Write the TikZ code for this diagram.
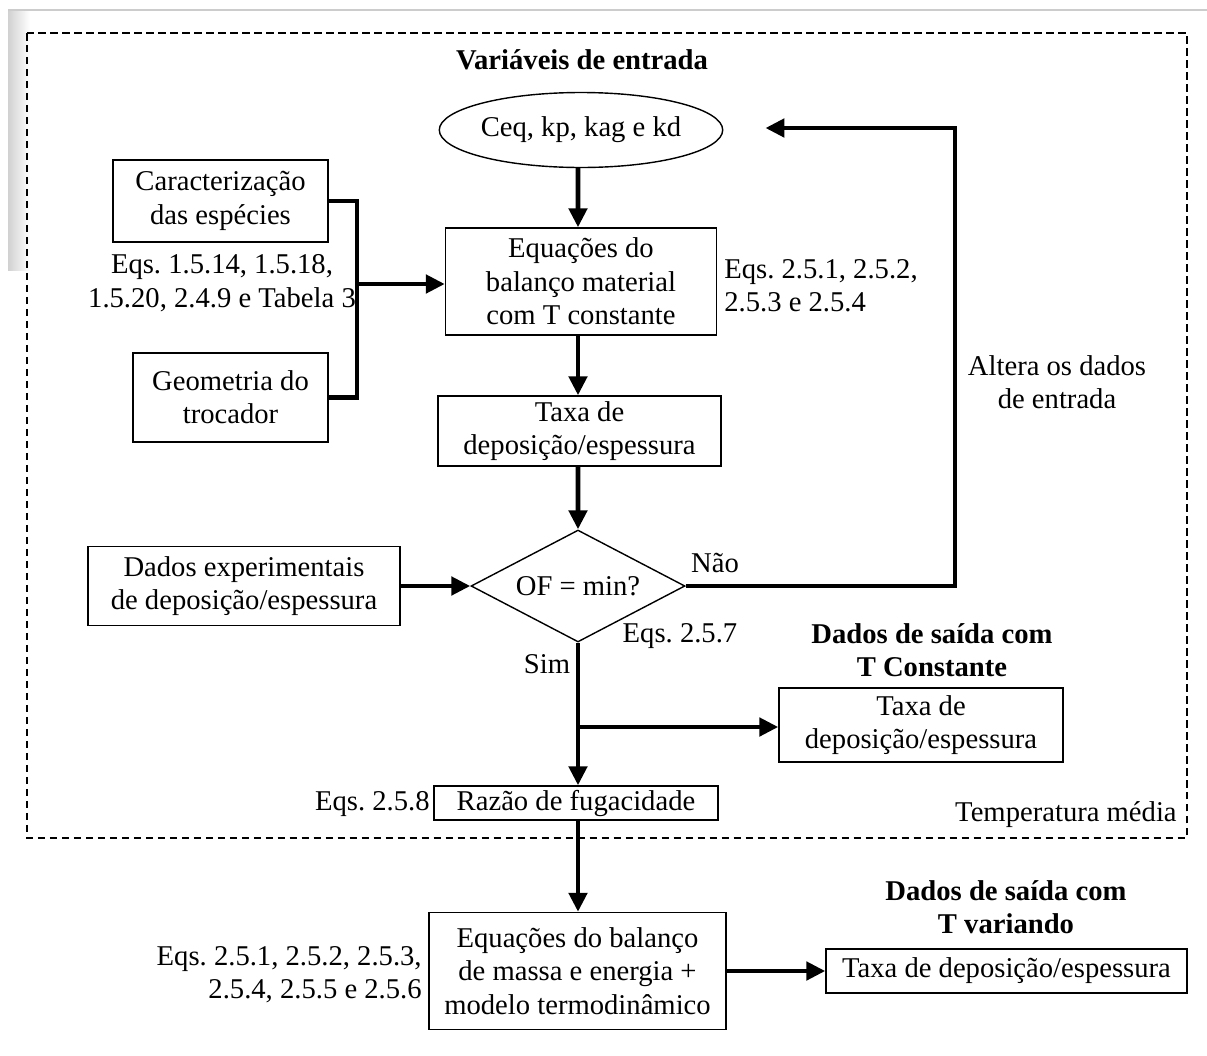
\documentclass[tikz,border=0pt]{standalone}
\usepackage{fontspec}
\setmainfont{Liberation Serif}
\frenchspacing
\usetikzlibrary{shapes.geometric,arrows.meta}
\begin{document}
\begin{tikzpicture}[x=0.02cm,y=-0.02cm,
    every node/.style={font=\fontsize{16.3}{19}\selectfont},
    box/.style={draw,line width=0.8pt,align=center,inner sep=0pt},
    lbl/.style={inner sep=0pt},
    ttl/.style={inner sep=0pt,align=center,font=\fontsize{16.3}{19}\selectfont\bfseries},
    arr/.style={line width=2.8pt,-{Triangle[length=0.38cm,width=0.36cm]}},
    thk/.style={line width=2.8pt}]
    \useasboundingbox (0,0) rectangle (1207,1055);

    % page edge
    \shade[left color=black!18,right color=white] (8,10) rectangle (30,270);
    \draw[black!20,line width=1pt] (8,10) -- (1207,10);

    % frame for the mean temperature part
    \draw[line width=1pt,dash pattern=on 0.15cm off 0.09cm] (27,33) rectangle (1187,838);
    \node[ttl] (tin) at (582,60) {Variáveis de entrada};
    \node[lbl,anchor=east] (tmed) at (1177,815) {Temperatura média};

    % main column
    \node[draw,ellipse,line width=0.8pt,minimum width=5.54cm,minimum height=1.5cm,inner sep=0pt] (ell) at (581,130) {Ceq, kp, kag e kd};
    \node[box,minimum width=5.42cm,minimum height=2.14cm] (eqmat) at (581,281.5) {Equações do\\balanço material\\com T constante};
    \node[box,minimum width=5.66cm,minimum height=1.4cm] (taxa) at (579.5,431) {Taxa de\\deposição/espessura};
    \node[draw,diamond,line width=0.8pt,aspect=1.9,minimum width=4.28cm,minimum height=2.24cm,inner sep=0pt] (dec) at (578,586) {OF = min?};
    \node[box,minimum width=5.68cm,minimum height=0.68cm] (raz) at (576,803) {Razão de fugacidade};
    \node[box,minimum width=5.94cm,minimum height=2.34cm] (eqme) at (577.5,971) {Equações do balanço\\de massa e energia +\\modelo termodinâmico};

    % inputs on the left
    \node[box,minimum width=4.3cm,minimum height=1.64cm] (carac) at (220.5,201) {Caracterização\\das espécies};
    \node[box,minimum width=3.9cm,minimum height=1.78cm] (geom) at (230.5,397.5) {Geometria do\\trocador};
    \node[box,minimum width=6.24cm,minimum height=1.58cm] (dados) at (244,586) {Dados experimentais\\de deposição/espessura};

    % outputs
    \node[ttl] (tcons) at (932,650) {Dados de saída com\\T Constante};
    \node[box,minimum width=5.68cm,minimum height=1.48cm] (taxa2) at (921,725) {Taxa de\\deposição/espessura};
    \node[ttl] (tvar) at (1006,907) {Dados de saída com\\T variando};
    \node[box,minimum width=7.22cm,minimum height=0.88cm] (final) at (1006.5,971) {Taxa de deposição/espessura};

    % equation labels
    \node[lbl,align=center] (eqcar) at (222,283) {Eqs. 1.5.14, 1.5.18,\\1.5.20, 2.4.9 e Tabela 3};
    \node[lbl,align=left,anchor=west] (eqbal) at (724,285.5) {Eqs. 2.5.1, 2.5.2,\\2.5.3 e 2.5.4};
    \node[lbl] (eqof) at (680,636) {Eqs. 2.5.7};
    \node[lbl,anchor=east] (eqraz) at (430,804) {Eqs. 2.5.8};
    \node[lbl,align=right,anchor=east] (eqme2) at (422,975) {Eqs. 2.5.1, 2.5.2, 2.5.3,\\2.5.4, 2.5.5 e 2.5.6};
    \node[lbl,align=center] (alt) at (1057,382) {Altera os dados\\de entrada};
    \node[lbl] (nao) at (715,563) {Não};
    \node[lbl] (sim) at (547,664) {Sim};

    % connectors
    \coordinate (jn) at (357,284);
    \coordinate (loop) at (955,128);
    \coordinate (br) at (578,727);
    \draw[thk] (carac.east) -| (jn);
    \draw[thk] (geom.east) -| (jn);
    \draw[arr] (jn) -- (jn -| eqmat.west);
    \draw[arr] (ell.south -| eqmat.north) ++(-3,0) -- ([xshift=-0.06cm]eqmat.north);
    \draw[arr] ([xshift=-0.06cm]eqmat.south) -- ([xshift=-0.06cm]eqmat.south |- taxa.north);
    \draw[arr] ([xshift=-0.06cm]eqmat.south |- taxa.south) -- (dec.north);
    \draw[arr] (dados.east) -- (dec.west);
    \draw[arr,shorten >=0.84cm] (dec.east) -| (loop) -- (loop -| ell.east);
    \draw[arr] (dec.south) -- (dec.south |- raz.north);
    \draw[arr] (br) -- (br -| taxa2.west);
    \draw[arr] (dec.south |- raz.south) -- (dec.south |- eqme.north);
    \draw[arr] (eqme.east) -- (final.west);
\end{tikzpicture}
\end{document}
